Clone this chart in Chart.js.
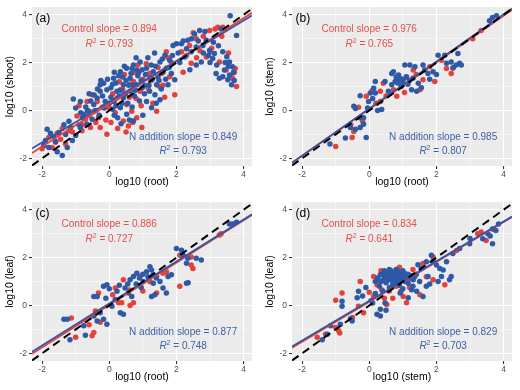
<!DOCTYPE html>
<html lang="en">
<head>
  <meta charset="UTF-8" />
  <title>Allometry panels</title>
  <script src="https://cdn.jsdelivr.net/npm/chart.js"></script>
  <style>
    body {
      margin: 0;
      background: #fff;
      font-family: 'Liberation Sans', Arial, sans-serif;
    }
    .grid {
      position: relative;
      width: 520px;
      height: 390px;
    }
    .panel {
      position: absolute;
      width: 260px;
      height: 195px;
    }
  </style>
</head>
<body>
  <div class="grid">
    <div class="panel" style="left:0;top:0"><canvas id="pa" width="260" height="195"></canvas></div>
    <div class="panel" style="left:260px;top:0"><canvas id="pb" width="260" height="195"></canvas></div>
    <div class="panel" style="left:0;top:195px"><canvas id="pc" width="260" height="195"></canvas></div>
    <div class="panel" style="left:260px;top:195px"><canvas id="pd" width="260" height="195"></canvas></div>
  </div>

  <script>
    // axis ticks: labelled majors plus unlabelled minors
    const majorTicks = [-2, 0, 2, 4];
    const minorTicks = [-1, 1, 3];

    // fitted lines and stats, order: (a) (b) (c) (d)
    const ctrlSlopes = [0.894, 0.976, 0.886, 0.834];
    const ctrlIntercepts = [0.28, 0.06, 0.02, 0.15];
    const ctrlR2 = [0.793, 0.765, 0.727, 0.641];
    const nSlopes = [0.849, 0.985, 0.877, 0.829];
    const nIntercepts = [0.36, 0.08, 0.08, 0.19];
    const nR2 = [0.793, 0.807, 0.748, 0.703];

    // (a) root vs shoot
    const rootShootCtrl = [
      [-1.8,-1.13],[-1.95,-1.47],[-1.6,-1.33],[-1.7,-1.55],[-2.0,-1.6],[-1.45,-1.2],[-1.3,-1.4],[-1.55,-0.95],[-1.2,-0.85],
      [-0.96,-0.23],[-0.71,-0.37],[-0.56,-0.71],[-0.81,-0.85],[-0.46,-0.03],[-0.32,-0.3],[-0.27,-0.71],[-0.07,-0.99],
      [-0.36,0.38],[-0.66,0.38],[-0.51,0.66],[-0.9,0.2],[-0.2,0.15],[-0.1,-0.4],
      [0.23,0.52],[0.52,0.25],[0.67,-0.03],[0.42,-0.44],[0.82,-0.3],[0.97,-0.71],[0.33,0.87],[0.72,1.21],[0.92,0.8],
      [0.18,-0.1],[0.57,-0.65],[0.1,0.7],[0.45,1.5],[0.75,1.6],[0.3,1.2],[0.6,0.55],[0.85,1.9],[0.05,-0.5],[0.95,0.2],[0.5,-0.9],
      [1.16,0.93],[1.41,-0.03],[1.7,2.45],[1.8,1.41],[1.56,1.55],[1.95,0.66],[1.2,1.55],[1.3,0.3],[1.5,1.0],[1.1,1.95],[1.65,0.55],[1.85,2.0],
      [2.39,2.72],[2.59,3.0],[2.99,3.34],[3.23,3.48],[2.15,2.45],[2.44,1.97],[2.89,2.24],[2.2,1.6],[2.7,2.5],[2.5,3.25],
      [3.28,2.03],[3.72,1.59],[3.79,1.0],[3.67,1.35],[3.48,1.69],[3.38,3.48],[3.35,3.1],[3.05,2.6],[3.55,2.4],
      [0.0,0.1],[0.15,0.4],[0.4,0.9],[0.62,1.1],[0.8,0.5],[1.0,1.3],[1.25,1.25],[1.45,1.8],[1.6,1.05],[1.75,2.2],
      [-0.6,-0.2],[-0.4,-0.5],[-0.8,-0.6],[-1.1,-0.9],[-1.4,-0.75],[2.3,2.3],[2.6,2.2],[2.8,3.1],[3.0,2.45],[3.15,3.4],
      [3.62,1.45],[3.75,1.75],[0.25,-0.75],[0.7,-0.5]
    ];
    const rootShootN = [
      [-1.85,-0.78],[-1.75,-0.95],[-1.9,-1.25],[-1.55,-1.72],[-1.4,-1.88],[-1.25,-1.55],[-1.1,-1.25],[-1.5,-0.92],[-1.15,-0.7],
      [-1.3,-1.0],[-1.65,-1.1],[-1.95,-1.45],[-1.0,-1.05],[-0.9,-0.6],
      [-1.07,0.48],[-0.86,0.38],[-1.0,0.1],[-0.76,-0.16],[-0.61,-0.03],[-0.46,0.25],[-0.27,0.8],[-0.36,0.52],[-0.51,-0.37],
      [-0.66,-0.58],[-0.86,-0.72],[-0.27,1.07],[-0.17,1.14],[-0.07,0.87],[-0.12,0.38],[-0.2,0.6],[-0.55,0.4],[-0.7,0.15],
      [-0.4,0.0],[-0.3,-0.2],[-0.15,0.1],[-0.05,1.3],[-0.25,1.25],[-0.6,0.7],[-0.8,-0.3],
      [0.13,1.35],[0.33,1.62],[0.52,1.76],[0.72,1.9],[0.92,2.03],[0.82,1.69],[0.62,1.35],[0.42,1.07],[0.23,0.8],[0.13,0.38],
      [0.33,0.11],[0.52,-0.16],[0.72,-0.44],[0.42,0.52],[0.62,0.8],[0.82,1.07],[0.05,0.95],[0.2,1.15],[0.3,0.6],[0.5,1.25],
      [0.55,0.3],[0.65,1.55],[0.75,0.6],[0.85,1.45],[0.95,1.25],[0.1,0.05],[0.25,-0.3],[0.4,1.4],[0.7,1.05],[0.9,0.4],
      [0.6,-0.4],[0.35,0.85],[0.15,1.6],[0.45,1.85],[0.8,2.2],[0.98,1.7],[0.05,0.55],[0.68,0.15],
      [1.11,1.76],[1.31,1.62],[1.21,1.35],[1.41,1.07],[1.51,2.03],[1.66,2.31],[1.8,2.1],[1.9,2.72],[2.0,2.79],[1.7,1.76],
      [1.36,0.66],[1.11,0.38],[1.26,0.11],[1.51,0.45],[1.75,1.07],[1.95,1.28],[1.05,1.05],[1.15,2.2],[1.25,1.9],[1.45,1.4],
      [1.6,1.6],[1.85,1.55],[1.2,0.8],[1.55,0.9],[1.05,0.7],[1.35,2.4],
      [2.15,2.79],[2.3,2.58],[2.44,2.45],[2.25,2.24],[2.59,2.65],[2.79,2.72],[2.89,2.93],[2.69,3.34],[2.54,3.2],[2.34,2.93],
      [2.59,1.9],[2.74,2.03],[2.99,2.52],[2.1,2.0],[2.4,1.7],[2.85,3.3],[2.95,2.3],
      [3.13,2.38],[3.08,2.17],[3.18,1.55],[3.28,1.35],[3.6,3.96],[3.79,3.13],[3.33,3.41],[3.38,2.45],[3.58,2.03],[3.67,1.83],
      [3.58,1.48],[3.53,1.28],[3.64,1.07],[3.38,1.41],[3.43,1.69],[3.25,2.7],[3.5,2.25],[3.1,2.85],[3.7,1.6],
      [0.0,0.3],[0.1,1.1],[0.2,0.2],[0.28,1.45],[0.38,0.3],[0.48,0.7],[0.58,1.05],[0.68,1.75],[0.78,0.85],[0.88,1.6],
      [0.98,0.95],[1.08,1.5],[1.18,1.05],[1.28,1.3],[1.38,1.85],[1.48,1.25],[1.58,2.15],[1.68,1.3],[1.78,1.8],[1.88,2.3],
      [-0.35,0.9],[-0.45,0.65],[-0.65,0.0],[-0.85,-0.1],[-1.2,-0.45],[-1.35,-0.6],[-1.6,-1.3],[-1.8,-1.55],[2.05,2.4],
      [2.2,2.9],[2.45,3.0],[2.65,2.9],[2.8,2.4],[3.0,2.0],[3.2,1.9],[3.45,2.0],[3.55,1.85],[3.72,1.25],[0.35,-0.55],
      [0.15,-0.2],[1.0,-0.2],[1.4,0.3]
    ];

    // (b) root vs stem
    const rootStemCtrl = [
      [-1.0,-1.5],[-0.51,-1.13],[-0.46,-0.88],[-0.32,0.14],[-0.09,0.59],[0.08,0.82],[0.33,0.8],[0.42,1.14],[0.33,0.38],
      [0.72,0.87],[0.82,0.59],[1.11,1.41],[1.31,1.69],[1.51,0.87],[1.6,1.28],[1.95,1.21],[1.8,1.83],[2.15,2.1],[2.49,1.76],
      [2.44,1.55],[2.3,1.75],[3.08,3.0],[3.33,3.34],[-0.55,-0.6],[0.5,0.6],[1.4,1.5],[0.2,0.3],[1.05,0.75],[-0.2,-0.45]
    ];
    const rootStemN = [
      [-1.17,-1.4],[-0.71,-1.15],[-0.09,-1.13],[-0.56,-0.71],[-0.41,-0.78],[-0.27,-0.71],[-0.46,0.18],[-0.41,0.08],[-0.27,-0.3],
      [-0.17,-0.3],[-0.17,-0.58],[-0.27,0.62],[-0.02,0.38],[0.03,0.73],[0.13,0.93],[0.18,1.21],[0.18,0.73],[0.47,1.21],
      [0.37,0.04],[0.57,0.8],[0.67,1.07],[0.77,1.21],[0.67,1.55],[0.72,1.62],[0.87,1.48],[0.92,1.35],[1.01,1.28],[1.06,1.9],
      [1.21,1.9],[1.36,1.83],[1.26,0.87],[1.41,0.8],[1.46,1.14],[1.65,1.69],[1.75,1.55],[1.9,1.62],[1.6,1.9],[2.05,2.31],
      [2.25,2.31],[2.3,1.97],[2.44,2.03],[2.59,1.9],[2.69,1.97],[2.64,2.38],[2.74,1.9],[3.67,3.89],[3.79,3.96],[3.58,3.75],
      [0.9,1.3],[1.0,1.15],[1.1,1.4],[1.2,1.25],[0.8,1.4],[1.15,1.1],[0.95,1.0],[1.3,1.35],[0.85,1.15],[0.1,0.5],
      [-0.05,0.1],[0.25,0.0],[1.55,0.95],[1.8,1.3],[2.0,1.5],[2.5,1.8]
    ];

    // (c) root vs leaf
    const rootLeafCtrl = [
      [-1.13,-0.52],[-1.0,-1.33],[-0.51,-1.26],[-0.46,-1.13],[-0.32,0.52],[-0.27,-0.7],[-0.41,-0.23],[0.18,0.73],[0.28,0.11],
      [0.37,0.11],[0.42,1.07],[0.92,1.21],[1.21,1.0],[1.41,1.21],[1.6,1.35],[1.7,1.41],[1.41,0.52],[0.72,0.11],[0.62,0.0],
      [2.1,2.1],[2.44,2.03],[2.44,1.69],[2.49,1.55],[2.1,0.8],[3.33,3.0],[3.28,2.95],[-0.6,-0.8],[0.1,0.45],[0.6,0.65],[1.0,0.6]
    ];
    const rootLeafN = [
      [-1.35,-0.58],[-1.25,-0.58],[-1.17,-1.43],[-0.71,-1.24],[-0.46,0.38],[-0.36,0.38],[-0.17,0.8],[-0.07,0.87],[-0.27,-0.3],
      [-0.36,-0.65],[-0.17,-0.58],[-0.07,-0.78],[0.08,-0.03],[0.18,0.25],[0.23,0.59],[0.33,-0.3],[0.42,-0.37],[0.47,0.73],
      [0.57,0.52],[0.67,0.38],[0.62,1.07],[0.72,1.21],[0.82,1.35],[1.01,1.0],[1.11,1.41],[1.21,1.62],[1.26,1.48],[1.31,1.28],
      [1.31,0.93],[1.51,1.0],[1.75,1.21],[1.85,1.28],[1.26,0.38],[1.36,0.45],[1.7,0.52],[1.6,0.73],[2.0,2.38],[2.15,2.31],
      [2.2,2.1],[2.34,1.97],[2.59,1.97],[2.74,1.9],[2.3,1.76],[2.3,0.93],[2.35,0.95],[3.67,3.41],[3.79,3.48],[3.58,3.41],
      [-0.76,-0.85],[-0.46,-0.44],[0.9,1.15],[1.0,1.3],[1.15,1.2],[0.95,0.75],[1.4,1.15],[0.3,0.85],[0.0,0.7],[0.55,0.9],
      [-0.1,0.3],[0.8,0.9]
    ];

    // (d) stem vs leaf
    const stemLeafCtrl = [
      [-1.55,-1.33],[-1.0,-0.92],[-0.91,-1.06],[-0.88,-1.15],[-0.81,0.52],[-1.0,0.22],[-0.32,-0.03],[-0.27,1.0],[-0.17,-0.3],
      [0.13,1.21],[0.13,0.38],[0.52,0.04],[0.37,0.66],[0.23,0.87],[1.01,0.38],[1.11,0.11],[1.51,0.45],[1.9,2.03],[2.25,0.87],
      [1.9,1.07],[3.23,3.0],[3.48,2.72],[3.33,3.07],[0.6,0.6],[0.9,1.6],[0.35,1.45],[1.3,1.5],[0.7,0.3],[1.2,0.75],
      [-0.5,-0.5],[0.0,0.55],[1.6,1.75],
      [0.25,1.0],[0.5,1.4],[0.8,0.8],[1.1,1.0],[1.7,1.2],[0.45,0.3],[2.6,2.3],[3.7,3.2],[0.95,0.6],[-1.3,-1.2]
    ];
    const stemLeafN = [
      [-1.4,-1.43],[-1.25,-1.2],[-1.15,-0.85],[-0.86,-0.78],[-0.81,0.18],[-0.81,-0.03],[-0.51,-0.65],[-0.56,-0.55],[-0.32,0.59],
      [-0.36,0.32],[0.18,1.0],[0.18,0.5],[0.23,-0.37],[0.33,-0.44],[0.33,-0.16],[0.47,0.1],
      [0.33,1.28],[0.42,1.35],[0.52,1.35],[0.62,1.41],[0.72,1.35],[0.82,1.38],[0.92,1.32],[1.01,1.28],[1.11,1.21],[1.21,1.14],
      [1.31,1.07],[0.57,1.14],[0.67,1.07],[0.77,1.21],[0.87,1.07],[0.97,1.14],[1.06,1.0],[1.16,0.93],[0.45,1.2],[0.55,1.25],
      [0.65,1.25],[0.75,1.25],[0.85,1.25],[0.95,1.25],[0.6,1.5],[0.8,1.5],[1.0,1.45],[0.4,1.05],[0.5,0.95],[0.7,0.9],
      [0.9,0.85],[0.3,0.8],[0.82,0.93],[0.92,0.52],[1.16,0.32],[1.26,0.66],[1.41,0.59],[1.6,0.38],[1.7,0.8],[1.75,1.21],
      [1.85,2.1],[1.7,1.83],[2.0,1.69],[2.1,1.55],[2.2,1.48],[2.3,1.83],[2.15,1.21],[2.39,1.07],[2.44,1.21],[2.99,2.58],
      [2.69,2.38],[2.49,2.17],[3.38,2.79],[3.53,3.0],[3.67,3.2],[3.77,3.13],[3.67,2.58],[3.85,3.4],[1.4,1.3],[1.5,1.0],
      [1.55,1.55],[0.05,0.2],[-0.1,0.75],
      [0.25,1.15],[0.35,1.0],[0.45,1.45],[0.55,1.05],[0.65,1.45],[0.75,1.05],[0.85,1.45],[0.95,1.05],[1.05,1.35],[1.15,1.3],
      [1.25,1.25],[1.35,1.2],[0.6,1.3],[0.7,1.2],[0.8,1.3],[0.9,1.2],[1.0,1.2],[0.4,0.6],[0.6,0.75],[1.0,0.7],
      [1.3,0.8],[1.8,0.9],[2.05,1.0],[0.1,0.1],[-0.2,0.4],[0.5,-0.2],[3.0,2.8],[3.6,2.9],[1.9,1.85],[1.45,1.7]
    ];

    const xRange = [-2.3, 4.25];
    const yRange = [-2.32, 4.32];

    const RED = '#E3423B';
    const BLUE = '#2D59A7';
    const RED_TEXT = '#E0504A';
    const BLUE_TEXT = '#3C5FA6';
    const FONT = "'Liberation Sans', Arial, sans-serif";

    Chart.defaults.font.family = FONT;

    const toXY = pts => pts.map(([x, y]) => ({ x, y }));
    const fitLine = (slope, icpt) => xRange.map(x => ({ x, y: icpt + slope * x }));

    function drawR2(ctx, cx, cy, value, color) {
      const rest = ' = ' + value.toFixed(3);
      ctx.font = 'italic 10px ' + FONT;
      const wR = ctx.measureText('R').width;
      ctx.font = '7px ' + FONT;
      const w2 = ctx.measureText('2').width;
      ctx.font = '10px ' + FONT;
      const wRest = ctx.measureText(rest).width;
      let x = cx - (wR + w2 + wRest) / 2;
      ctx.fillStyle = color;
      ctx.textAlign = 'left';
      ctx.textBaseline = 'middle';
      ctx.font = 'italic 10px ' + FONT;
      ctx.fillText('R', x, cy);
      x += wR;
      ctx.font = '7px ' + FONT;
      ctx.fillText('2', x, cy - 3.5);
      x += w2;
      ctx.font = '10px ' + FONT;
      ctx.fillText(rest, x, cy);
    }

    const panelBackground = {
      id: 'panelBackground',
      beforeDraw(chart) {
        const { ctx, chartArea: a } = chart;
        ctx.save();
        ctx.fillStyle = '#EBEBEB';
        ctx.fillRect(a.left, a.top, a.right - a.left, a.bottom - a.top);
        ctx.restore();
      }
    };

    const panelText = {
      id: 'panelText',
      afterDraw(chart, args, opts) {
        const { ctx, chartArea: a, scales: { x, y } } = chart;
        ctx.save();
        ctx.textAlign = 'left';
        ctx.textBaseline = 'middle';
        ctx.fillStyle = '#000';
        ctx.font = '12px ' + FONT;
        ctx.fillText(opts.tag, a.left + 3.5, a.top + 12);

        ctx.textAlign = 'center';
        ctx.font = '10px ' + FONT;
        ctx.fillStyle = RED_TEXT;
        ctx.fillText('Control slope = ' + opts.ctrlSlope.toFixed(3), x.getPixelForValue(0), y.getPixelForValue(3.4));
        drawR2(ctx, x.getPixelForValue(0), y.getPixelForValue(2.75), opts.ctrlR2, RED_TEXT);

        ctx.textAlign = 'center';
        ctx.font = '10px ' + FONT;
        ctx.fillStyle = BLUE_TEXT;
        ctx.fillText('N addition slope = ' + opts.nSlope.toFixed(3), x.getPixelForValue(2.2), y.getPixelForValue(-1.13));
        drawR2(ctx, x.getPixelForValue(2.2), y.getPixelForValue(-1.7), opts.nR2, BLUE_TEXT);
        ctx.restore();
      }
    };

    function axis(range, title, isX) {
      const isMinor = c => minorTicks.includes(c.tick.value);
      return {
        type: 'linear',
        min: range[0],
        max: range[1],
        afterBuildTicks: s => {
          s.ticks = [...majorTicks, ...minorTicks].sort((p, q) => p - q).map(v => ({ value: v }));
        },
        afterFit: s => {
          if (isX) s.height = 29; else s.width = 32;
        },
        ticks: {
          autoSkip: false,
          maxRotation: 0,
          color: '#4D4D4D',
          font: { size: 8.5 },
          padding: isX ? 1 : 2,
          callback: v => (majorTicks.includes(v) ? String(v) : '')
        },
        grid: {
          color: c => (isMinor(c) ? 'rgba(255,255,255,0.75)' : '#FFFFFF'),
          lineWidth: c => (isMinor(c) ? 0.6 : 1.1),
          tickColor: c => (isMinor(c) ? 'rgba(0,0,0,0)' : '#333333'),
          tickLength: 3
        },
        border: { display: false },
        title: {
          display: true,
          text: title,
          color: '#000',
          font: { size: 10.5 },
          padding: isX ? { top: 0, bottom: 7 } : { top: 3.7, bottom: 0 }
        }
      };
    }

    function makePanel(id, i, ctrlPts, nPts, xTitle, yTitle, tag) {
      const lineStyle = { showLine: true, pointRadius: 0, fill: false, borderWidth: 1.8 };
      new Chart(document.getElementById(id), {
        type: 'scatter',
        data: {
          datasets: [
            { ...lineStyle, data: xRange.map(v => ({ x: v, y: v })), borderColor: '#000', borderWidth: 2, borderDash: [8, 5], order: 0 },
            { ...lineStyle, data: fitLine(nSlopes[i], nIntercepts[i]), borderColor: '#3B53A2', order: 1 },
            { ...lineStyle, data: fitLine(ctrlSlopes[i], ctrlIntercepts[i]), borderColor: '#E0443E', order: 2 },
            { data: toXY(nPts), backgroundColor: BLUE, pointRadius: 2.75, borderWidth: 0, order: 3 },
            { data: toXY(ctrlPts), backgroundColor: RED, pointRadius: 2.75, borderWidth: 0, order: 4 }
          ]
        },
        options: {
          responsive: false,
          animation: false,
          events: [],
          layout: { padding: { left: 0, right: 8, top: 5, bottom: 0 } },
          plugins: {
            legend: { display: false },
            tooltip: { enabled: false },
            panelText: {
              tag,
              ctrlSlope: ctrlSlopes[i], ctrlR2: ctrlR2[i],
              nSlope: nSlopes[i], nR2: nR2[i]
            }
          },
          scales: {
            x: axis(xRange, xTitle, true),
            y: axis(yRange, yTitle, false)
          }
        },
        plugins: [panelBackground, panelText]
      });
    }

    makePanel('pa', 0, rootShootCtrl, rootShootN, 'log10 (root)', 'log10 (shoot)', '(a)');
    makePanel('pb', 1, rootStemCtrl, rootStemN, 'log10 (root)', 'log10 (stem)', '(b)');
    makePanel('pc', 2, rootLeafCtrl, rootLeafN, 'log10 (root)', 'log10 (leaf)', '(c)');
    makePanel('pd', 3, stemLeafCtrl, stemLeafN, 'log10 (stem)', 'log10 (leaf)', '(d)');
  </script>
</body>
</html>
